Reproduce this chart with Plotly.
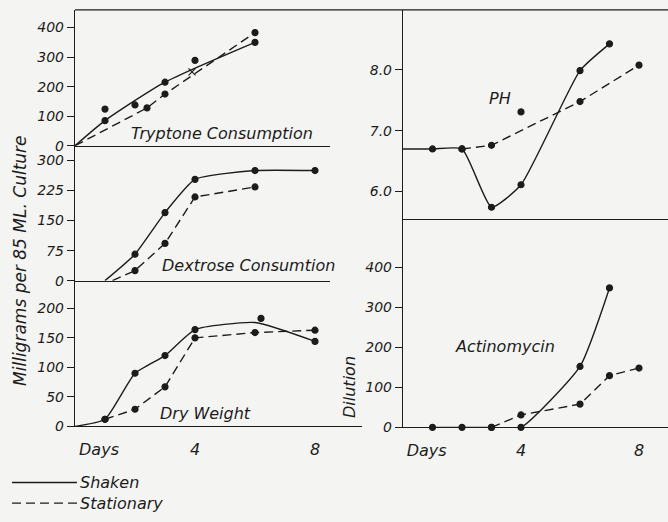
import plotly.graph_objects as go

W, H = 668, 522

# ---------------- data ----------------
series_names = ["Shaken", "Stationary"]

# Tryptone consumption (mg per 85 ml)
tryp_days_shaken = [0, 1, 3, 6]
tryp_shaken = [0, 85, 215, 350]
tryp_days_stat = [0, 2.4, 3, 6]
tryp_stat = [0, 128, 175, 383]
tryp_extra_days = [1, 2, 4]
tryp_extra = [124, 138, 289]
tryp_cross_days = [3.9]
tryp_cross = [250]

# Dextrose consumption
dex_days_shaken = [1, 2, 3, 4, 6, 8]
dex_shaken = [0, 66, 170, 253, 275, 275]
dex_days_stat = [1.25, 2, 3, 4, 6]
dex_stat = [0, 25, 93, 209, 234]

# Dry weight
dry_days_shaken = [0, 1, 2, 3, 4, 6, 8]
dry_shaken = [0, 12, 90, 120, 164, 176, 144]
dry_days_stat = [1, 2, 3, 4, 6, 8]
dry_stat = [12, 29, 67, 150, 159, 163]
dry_extra_days = [6.2]
dry_extra = [183]

# pH
ph_days_shaken = [0, 1, 2, 3, 4, 6, 7]
ph_shaken = [6.7, 6.7, 6.7, 5.74, 6.11, 7.99, 8.43]
ph_days_stat = [2, 3, 6, 8]
ph_stat = [6.7, 6.76, 7.48, 8.08]
ph_extra_days = [4]
ph_extra = [7.31]

# Actinomycin dilution
act_days_shaken = [1, 2, 3, 4, 6, 7]
act_shaken = [0, 0, 0, 0, 152, 348]
act_days_stat = [3, 4, 6, 7, 8]
act_stat = [0, 31, 58, 129, 148]

# tick labels
tryp_ticks = [0, 100, 200, 300, 400]
dex_ticks = [0, 75, 150, 225, 300]
dry_ticks = [0, 50, 100, 150, 200]
ph_ticks = [6.0, 7.0, 8.0]
ph_ticktext = ["6.0", "7.0", "8.0"]
act_ticks = [0, 100, 200, 300, 400]
day_tickvals = [0.8, 4, 8]
day_ticktext = ["Days", "4", "8"]

# ---------------- styling helpers ----------------
INK = "#1c1c1c"
BG = "#f4f4f2"
FONT = "DejaVu Sans"
LW = 1.4
DASH = "9px,5px"


def px(x):
    return x / W


def py(y):
    return 1 - y / H


fig = go.Figure()


def add_line(xa, ya, days, vals, dash=False, nomark=(), shape="spline", smooth=0.6):
    sizes = [0 if i in nomark else 6 for i in range(len(days))]
    widths = [0 if i in nomark else 1.2 for i in range(len(days))]
    fig.add_trace(go.Scatter(
        x=days, y=vals, xaxis=xa, yaxis=ya, mode="lines+markers",
        line=dict(color=INK, width=LW, dash=DASH if dash else "solid",
                  shape=shape, smoothing=smooth if shape == "spline" else None),
        marker=dict(color=INK, size=sizes, symbol="circle", opacity=1,
                    line=dict(color=INK, width=widths)),
        cliponaxis=False, showlegend=False, hoverinfo="x+y"))


def add_dots(xa, ya, days, vals, symbol="circle", size=6):
    fig.add_trace(go.Scatter(
        x=days, y=vals, xaxis=xa, yaxis=ya, mode="markers",
        marker=dict(color=INK, size=size, symbol=symbol,
                    line=dict(color=INK, width=1.2)),
        cliponaxis=False, showlegend=False, hoverinfo="x+y"))


# Tryptone
add_line("x", "y", tryp_days_shaken, tryp_shaken, nomark=(0,))
add_line("x", "y", tryp_days_stat, tryp_stat, dash=True, nomark=(0,), shape="linear")
add_dots("x", "y", tryp_extra_days, tryp_extra)
add_dots("x", "y", tryp_cross_days, tryp_cross, symbol="x-thin", size=7)

# Dextrose
add_line("x2", "y2", dex_days_shaken, dex_shaken, nomark=(0,), smooth=0.5)
add_line("x2", "y2", dex_days_stat, dex_stat, dash=True, nomark=(0,), shape="linear")

# Dry weight
add_line("x3", "y3", dry_days_shaken, dry_shaken, nomark=(0, 5), smooth=0.5)
add_line("x3", "y3", dry_days_stat, dry_stat, dash=True, shape="linear")
add_dots("x3", "y3", dry_extra_days, dry_extra)

# pH
add_line("x4", "y4", ph_days_shaken, ph_shaken, nomark=(0,), smooth=0.5)
add_line("x4", "y4", ph_days_stat, ph_stat, dash=True, shape="linear")
add_dots("x4", "y4", ph_extra_days, ph_extra)

# Actinomycin
add_line("x5", "y5", act_days_shaken, act_shaken, smooth=0.5)
add_line("x5", "y5", act_days_stat, act_stat, dash=True, shape="linear")

# ---------------- axes ----------------
tick_font = dict(family=FONT, size=14, color=INK, style="italic")
day_font = dict(family=FONT, size=16, color=INK, style="italic")


def yax(dom_top, dom_bot, rng, tickvals, ticktext=None, anchor="x"):
    return dict(domain=[py(dom_bot), py(dom_top)], range=rng, anchor=anchor,
                tickvals=tickvals, ticktext=ticktext, ticks="outside", ticklen=7,
                tickwidth=1.2, tickcolor=INK, showline=True, linecolor=INK,
                linewidth=LW, showgrid=False, zeroline=False, tickfont=tick_font,
                fixedrange=True)


def xax(left, right, rng, anchor, labels=False):
    d = dict(domain=[px(left), px(right)], range=rng, anchor=anchor,
             showline=True, linecolor=INK, linewidth=LW, showgrid=False,
             zeroline=False, ticks="", fixedrange=True)
    if labels:
        d.update(tickvals=day_tickvals, ticktext=day_ticktext, tickfont=day_font,
                 showticklabels=True, ticklabelstandoff=8)
    else:
        d.update(showticklabels=False)
    return d


fig.update_layout(
    xaxis=xax(75, 330, [0, (330 - 75) / 30], "y"),
    yaxis=yax(10, 148, [0, 460], tryp_ticks, anchor="x"),
    xaxis2=xax(75, 330, [0, (330 - 75) / 30], "y2"),
    yaxis2=yax(148, 285, [0, 337], dex_ticks, anchor="x2"),
    xaxis3=xax(75, 362, [0, (362 - 75) / 30], "y3", labels=True),
    yaxis3=yax(285, 433, [0, 247], dry_ticks, anchor="x3"),
    xaxis4=xax(403, 668, [0, (668 - 403) / 29.5], "y4"),
    yaxis4=yax(10, 222, [5.553, 8.99], ph_ticks, ph_ticktext, anchor="x4"),
    xaxis5=xax(403, 668, [0, (668 - 403) / 29.5], "y5", labels=True),
    yaxis5=yax(222, 434, [0, 521], act_ticks, anchor="x5"),
)

# ---------------- frame, labels, legend ----------------
shapes = [
    dict(type="line", xref="paper", yref="paper", x0=px(75), x1=px(668),
         y0=py(10), y1=py(10), line=dict(color=INK, width=LW)),
]

ann = []


def text(s, x, y, size=16, angle=0, xanchor="center"):
    ann.append(dict(text=s, x=px(x), y=py(y), xref="paper", yref="paper",
                    showarrow=False, textangle=angle, xanchor=xanchor,
                    yanchor="middle",
                    font=dict(family=FONT, size=size, color=INK, style="italic")))


text("Tryptone Consumption", 222, 136)
text("Dextrose Consumtion", 248, 270)
text("Dry Weight", 205, 420)
text("PH", 500, 100)
text("Actinomycin", 505, 352)
text("Milligrams per 85 ML. Culture", 20, 265, size=17, angle=-90)
text("Dilution", 350, 393, size=16, angle=-90)

# legend (hand-drawn style key)
leg_y = [490, 511]
for name, yy, dash in zip(series_names, leg_y, ["solid", DASH]):
    shapes.append(dict(type="line", xref="paper", yref="paper", x0=px(12), x1=px(77),
                       y0=py(yy), y1=py(yy), line=dict(color=INK, width=LW, dash=dash)))
    text(name, 78, yy, size=16, xanchor="left")

fig.update_layout(
    width=W, height=H, margin=dict(l=0, r=0, t=0, b=0),
    paper_bgcolor=BG, plot_bgcolor="rgba(0,0,0,0)",
    shapes=shapes, annotations=ann, showlegend=False,
    font=dict(family=FONT, color=INK),
)

fig.write_html("out.html")
